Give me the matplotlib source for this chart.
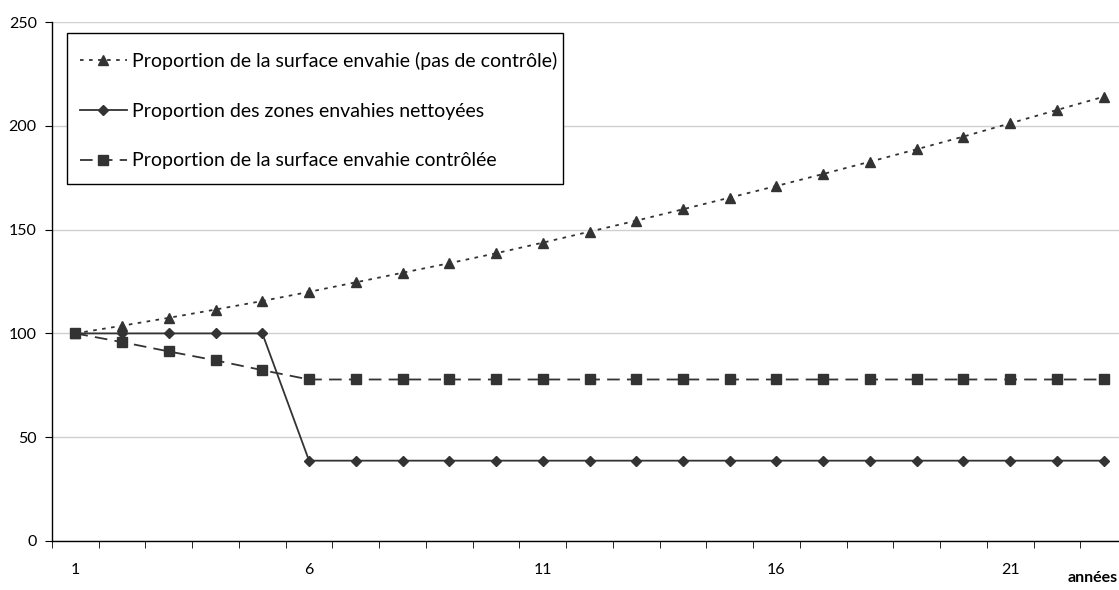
import matplotlib.pyplot as plt
from matplotlib.patches import Rectangle
from matplotlib.ticker import MultipleLocator

plt.rcParams['font.family'] = ['Lato', 'DejaVu Sans']

years = list(range(1, 24))
surface_no_control = [100, 103.7, 107.5, 111.5, 115.6, 120.0, 124.6, 129.2, 133.8, 138.6,
                      143.7, 149.0, 154.3, 159.8, 165.4, 171.0, 176.8, 182.7, 188.7, 194.8,
                      201.2, 207.6, 214.0]
zones_cleaned = [100, 100, 100, 100, 100] + [38.7] * 18
surface_controlled = [100, 95.8, 91.3, 87.0, 82.3] + [77.8] * 18

labels = ['Proportion de la surface envahie (pas de contrôle)',
          'Proportion des zones envahies nettoyées',
          'Proportion de la surface envahie contrôlée']
xtick_years = [1, 6, 11, 16, 21]

col = '#333333'
W, H = 1119, 590

fig = plt.figure(figsize=(W / 100, H / 100), dpi=100)
ax = fig.add_axes([52 / W, 49 / H, 1075 / W, 519 / H])

ax.plot(years, surface_no_control, color=col, lw=1.3, linestyle=(0, (2, 3)),
        marker='^', ms=7, label=labels[0])
ax.plot(years, zones_cleaned, color=col, lw=1.3, linestyle='-',
        marker='D', ms=5.5, label=labels[1])
ax.plot(years, surface_controlled, color=col, lw=1.3, linestyle=(0, (7, 4)),
        marker='s', ms=6.5, label=labels[2])

ax.set_xlim(0.5, 23.5)
ax.set_ylim(0, 250)
ax.yaxis.set_major_locator(MultipleLocator(50))
ax.grid(axis='y', color='#d0d0d0', lw=1)
ax.set_axisbelow(True)

ax.set_xticks(xtick_years)
ax.set_xticks([y + 0.5 for y in range(0, 24)], minor=True)
ax.tick_params(axis='x', which='major', length=0, pad=16, labelsize=11.5)
ax.tick_params(axis='x', which='minor', length=5, direction='out', color='black')
ax.tick_params(axis='y', length=5, direction='out', pad=6, labelsize=11.5, color='black')

for s in ['top', 'right']:
    ax.spines[s].set_visible(False)
for s in ['left', 'bottom']:
    ax.spines[s].set_color('black')
    ax.spines[s].set_linewidth(1)

fig.text(1118 / W, 1 - 578 / H, 'années', ha='right', va='center',
         fontsize=11.5, fontweight='bold')

# legend box: white frame drawn separately (Excel-like tight right padding)
box = Rectangle((67 / W, 1 - 184 / H), (563 - 67) / W, (184 - 33) / H,
                transform=fig.transFigure, facecolor='white', edgecolor='black',
                lw=1, zorder=4.5, clip_on=False)
ax.add_patch(box)

leg = ax.legend(loc='upper left', bbox_to_anchor=(80 / W, 1 - 52 / H),
                bbox_transform=fig.transFigure,
                fontsize=14, frameon=False, handlelength=2.4, handletextpad=0.25,
                labelspacing=1.68, borderpad=0, borderaxespad=0)
leg.set_zorder(6)

fig.savefig('out.png', dpi=100)
